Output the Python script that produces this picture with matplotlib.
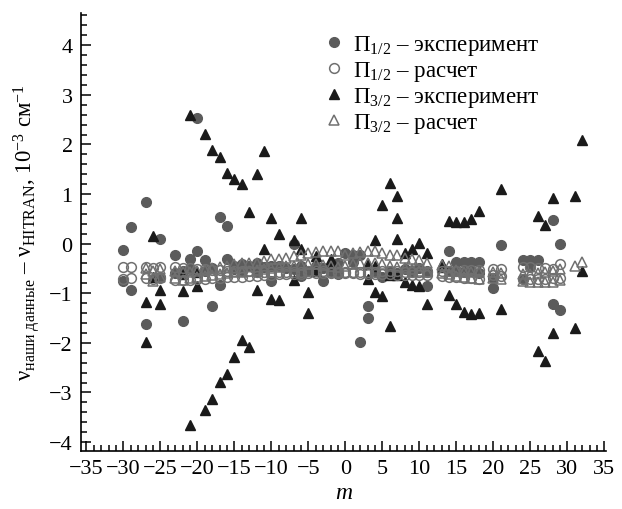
import matplotlib
matplotlib.use('Agg')
import matplotlib.pyplot as plt
from matplotlib.ticker import MultipleLocator

plt.rcParams['font.family'] = ['Liberation Serif', 'DejaVu Serif']
plt.rcParams['mathtext.fontset'] = 'custom'
plt.rcParams['mathtext.rm'] = 'Liberation Serif'
plt.rcParams['mathtext.it'] = 'Liberation Serif:italic'
plt.rcParams['mathtext.bf'] = 'Liberation Serif:bold'

# Pi 1/2 experiment (filled circles)
m_p12_exp = [-30, -30, -29, -29, -27, -27, -25, -25, -23, -23, -22, -22, -21, -21,
             -20, -20, -19, -19, -18, -18, -17, -17, -16, -16, -15, -15, -14, -14,
             -13, -12, -12, -11, -10, -10, -9, -8, -7, -7, -6, -6, -5, -4, -3, -3,
             -2, -1, -1, 0, 1, 1, 2, 2, 3, 3, 4, 5, 6, 7, 8, 9, 10, 11, 11,
             14, 14, 15, 15, 16, 16, 17, 17, 18, 18, 20, 20, 21, 24, 24, 25, 25,
             26, 28, 28, 29, 29]
y_p12_exp = [-0.12, -0.75, 0.34, -0.93, 0.83, -1.62, 0.09, -0.68, -0.23, -0.60, -1.56, -0.55, -0.30, -0.52,
             2.54, -0.15, -0.33, -0.55, -1.25, -0.50, 0.53, -0.84, 0.35, -0.31, -0.45, -0.52, -0.42, -0.55,
             -0.45, -0.40, -0.58, -0.48, -0.75, -0.45, -0.45, -0.50, -0.01, -0.52, -0.65, -0.45, -0.55, -0.45, -0.75, -0.50,
             -0.55, -0.38, -0.62, -0.19, -0.23, -0.37, -0.23, -1.98, -1.25, -1.49, -0.55, -0.68, -0.55, -0.60, -0.52, -0.55, -0.50, -0.85, -0.55,
             -0.15, -0.55, -0.36, -0.55, -0.36, -0.58, -0.36, -0.55, -0.36, -0.60, -0.90, -0.70, -0.03, -0.32, -0.71, -0.32, -0.48,
             -0.32, 0.48, -1.22, 0.00, -1.34]

# Pi 3/2 experiment (filled triangles)
m_p32_exp = [-27, -27, -26, -26, -25, -25, -22, -22, -21, -21, -20, -20, -19, -19,
             -18, -18, -17, -17, -16, -16, -15, -15, -14, -14, -13, -13, -12, -12,
             -11, -11, -10, -10, -9, -9, -7, -7, -6, -6, -5, -5, -4, -4, -2, -2,
             3, 3, 4, 4, 4, 5, 5, 6, 6, 6, 7, 7, 7, 7, 8, 8, 9, 9, 10, 10, 11, 11,
             13, 13, 14, 14, 15, 15, 16, 16, 17, 17, 18, 18, 21, 21,
             26, 26, 27, 27, 28, 28, 31, 31, 32, 32]
y_p32_exp = [-1.17, -1.99, 0.16, -0.68, -0.93, -1.22, -0.95, -0.61, 2.59, -3.66, -0.85, -0.58, 2.21, -3.35,
             1.89, -3.14, 1.74, -2.79, 1.42, -2.63, 1.30, -2.28, 1.20, -1.94, 0.64, -2.09, 1.40, -0.94,
             1.86, -0.11, 0.51, -1.12, 0.19, -1.14, 0.08, -0.74, 0.51, -0.11, -0.97, -1.40, -0.24, -0.55, -0.30, -0.42,
             -0.41, -0.72, 0.08, -0.46, -0.98, 0.78, -1.05, 1.22, -0.64, -1.67, 0.96, 0.51, 0.10, -0.64, -0.19, -0.77,
             -0.10, -0.84, 0.02, -0.85, -0.19, -1.22,
             -0.41, -0.48, 0.46, -1.04, 0.44, -1.22, 0.44, -1.37, 0.49, -1.42, 0.66, -1.40, 1.11, -1.31,
             0.55, -2.16, 0.37, -2.36, 0.92, -1.81, 0.97, -1.71, 2.09, -0.56]

# Pi 1/2 calculation (open circles), two components
m_p12_calc = [-30, -29, -27, -26, -25, -23, -22, -21, -20, -19, -18, -17, -16, -15, -14, -13,
              -12, -11, -10, -9, -8, -7, -6, -5, -4, -3, -2, -1, 0, 1, 2, 3, 4, 5, 6, 7,
              8, 9, 10, 11, 13, 14, 15, 16, 17, 18, 20, 21, 24, 25, 26, 27, 28, 29]
p12_calc_a = [-0.47, -0.47, -0.48, -0.50, -0.48, -0.48, -0.50, -0.50, -0.52, -0.52, -0.53, -0.53, -0.55, -0.55, -0.56, -0.56,
              -0.57, -0.58, -0.58, -0.58, -0.57, -0.57, -0.57, -0.56, -0.56, -0.56, -0.57, -0.57, -0.58, -0.58, -0.58, -0.57, -0.57, -0.56, -0.56, -0.56,
              -0.57, -0.57, -0.57, -0.57, -0.56, -0.55, -0.55, -0.54, -0.54, -0.53, -0.52, -0.51, -0.48, -0.48, -0.50, -0.50, -0.52, -0.41]
p12_calc_b = [-0.71, -0.70, -0.70, -0.72, -0.69, -0.73, -0.74, -0.73, -0.72, -0.72, -0.70, -0.70, -0.68, -0.68, -0.67, -0.66,
              -0.65, -0.64, -0.63, -0.62, -0.62, -0.61, -0.61, -0.60, -0.60, -0.60, -0.60, -0.60, -0.60, -0.60, -0.61, -0.61, -0.61, -0.62, -0.62, -0.63,
              -0.63, -0.63, -0.64, -0.63, -0.65, -0.67, -0.68, -0.69, -0.70, -0.71, -0.64, -0.65, -0.72, -0.72, -0.72, -0.72, -0.70, -0.70]

# Pi 3/2 calculation (open triangles), two components
m_p32_calc_a = [-27, -26, -25, -23, -22, -21, -20, -19, -18, -17, -16, -15, -14, -13, -12, -11,
                -10, -9, -8, -7, -6, -5, -4, -3, -2, -1, 0, 1, 2, 3, 4, 5, 6, 7, 8, 9, 10, 11,
                13, 14, 15, 16, 17, 18, 20, 21, 24, 25, 26, 27, 28, 29, 31, 32]
p32_calc_a = [-0.50, -0.55, -0.52, -0.55, -0.58, -0.57, -0.55, -0.53, -0.50, -0.48, -0.45, -0.42, -0.40, -0.40, -0.38, -0.35,
              -0.31, -0.31, -0.28, -0.25, -0.22, -0.19, -0.16, -0.15, -0.14, -0.15, -0.22, -0.18, -0.16, -0.15, -0.15, -0.18, -0.23, -0.23, -0.28, -0.30, -0.33, -0.40,
              -0.43, -0.45, -0.54, -0.57, -0.57, -0.58, -0.58, -0.60, -0.62, -0.62, -0.60, -0.58, -0.55, -0.52, -0.45, -0.37]
m_p32_calc_b = [-27, -26, -25, -23, -22, -21, -20, -19, -18, -17, -16, -15, -14, -13, -12, -11,
                -10, -9, -8, -7, -6, -5, -4, -3, -2, -1, 0, 1, 2, 3, 4, 5, 6, 7, 8, 9, 10, 11,
                13, 14, 15, 16, 17, 18, 20, 21, 24, 25, 26, 27, 28, 29]
p32_calc_b = [-0.62, -0.75, -0.68, -0.70, -0.73, -0.70, -0.68, -0.66, -0.64, -0.62, -0.60, -0.58, -0.57, -0.55, -0.54, -0.52,
              -0.50, -0.48, -0.46, -0.45, -0.44, -0.42, -0.42, -0.43, -0.45, -0.48, -0.45, -0.42, -0.40, -0.38, -0.40, -0.42, -0.45, -0.47, -0.50, -0.52, -0.55, -0.57,
              -0.60, -0.62, -0.65, -0.68, -0.70, -0.72, -0.70, -0.72, -0.75, -0.77, -0.78, -0.78, -0.78, -0.74]

labels = [r'$\Pi_{1/2}$ – эксперимент', r'$\Pi_{1/2}$ – расчет',
          r'$\Pi_{3/2}$ – эксперимент', r'$\Pi_{3/2}$ – расчет']

fig = plt.figure(figsize=(6.22, 5.10), dpi=100)
ax = fig.add_axes([81 / 622, 58 / 510, 525.4 / 622, 438 / 510])

c_fill = '#5b5b5b'
c_tri = '#1a1a1a'
c_open = '#707070'

h1, = ax.plot(m_p12_exp, y_p12_exp, 'o', ls='none', ms=7, color=c_fill, mec=c_fill)
h3, = ax.plot(m_p32_exp, y_p32_exp, '^', ls='none', ms=7.5, color=c_tri, mec=c_tri)
h2, = ax.plot(m_p12_calc, p12_calc_a, 'o', ls='none', ms=7, mfc='none', mec=c_open, mew=1.1)
ax.plot(m_p12_calc, p12_calc_b, 'o', ls='none', ms=7, mfc='none', mec=c_open, mew=1.1)
h4, = ax.plot(m_p32_calc_a, p32_calc_a, '^', ls='none', ms=7.5, mfc='none', mec=c_open, mew=1.1)
ax.plot(m_p32_calc_b, p32_calc_b, '^', ls='none', ms=7.5, mfc='none', mec=c_open, mew=1.1)

ax.set_xlim(-35.73, 35.27)
ax.set_ylim(-4.18, 4.65)
ax.xaxis.set_major_locator(MultipleLocator(5))
ax.xaxis.set_minor_locator(MultipleLocator(1))
ax.yaxis.set_major_locator(MultipleLocator(1))
ax.yaxis.set_minor_locator(MultipleLocator(0.2))

for s in ['top', 'right']:
    ax.spines[s].set_visible(False)
for s in ['left', 'bottom']:
    ax.spines[s].set_linewidth(1.2)

ax.tick_params(which='both', direction='in', width=1.1, labelsize=16, pad=6)
ax.tick_params(which='major', length=7)
ax.tick_params(which='minor', length=4)

ax.set_xlabel('m', fontsize=17, style='italic', labelpad=3)
ax.set_ylabel(r'$\mathrm{\nu}_{\mathrm{наши\ данные}}$ – $\mathrm{\nu}_{\mathrm{HITRAN}}$, 10$^{-3}$ см$^{-1}$',
              fontsize=16.5, labelpad=5)

ax.legend([h1, h2, h3, h4], labels, loc='upper left', bbox_to_anchor=(0.5, 0.955),
          bbox_transform=fig.transFigure, frameon=False, fontsize=16.5,
          handlelength=1.0, handletextpad=0.35, labelspacing=0.08, borderpad=0)

fig.savefig('out.png', dpi=100)
